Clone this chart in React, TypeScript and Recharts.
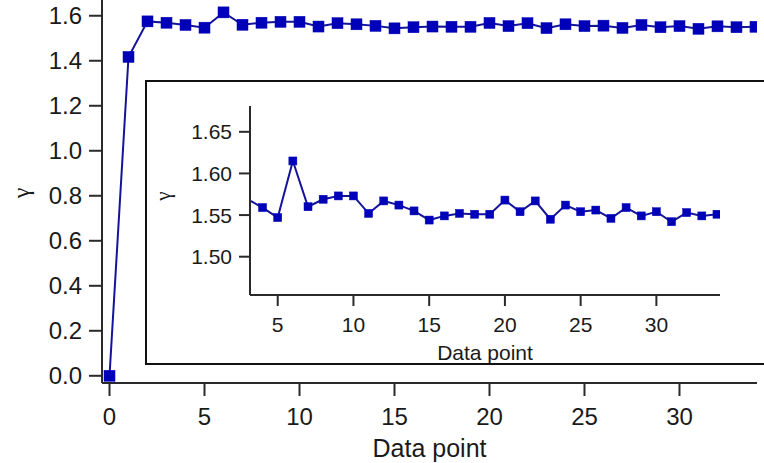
import { LineChart, Line, XAxis, YAxis } from "recharts";

const pointIndex = [
  0, 1, 2, 3, 4, 5, 6, 7, 8, 9, 10, 11, 12, 13, 14, 15, 16, 17, 18, 19, 20, 21,
  22, 23, 24, 25, 26, 27, 28, 29, 30, 31, 32, 33, 34,
];
const gammaValues = [
  0, 1.417, 1.575, 1.569, 1.559, 1.547, 1.615, 1.56, 1.569, 1.573, 1.573, 1.552,
  1.567, 1.562, 1.555, 1.544, 1.549, 1.552, 1.551, 1.551, 1.568, 1.554, 1.567,
  1.545, 1.562, 1.554, 1.556, 1.546, 1.559, 1.549, 1.554, 1.542, 1.553, 1.549,
  1.551,
];

const mainXTicks = [0, 5, 10, 15, 20, 25, 30];
const mainYTicks = [0, 0.2, 0.4, 0.6, 0.8, 1.0, 1.2, 1.4, 1.6];
const insetXTicks = [5, 10, 15, 20, 25, 30];
const insetYTicks = [1.5, 1.55, 1.6, 1.65];
const insetFrom = 3;
const insetXDomain: [number, number] = [3.17, 34.2];

const rows = pointIndex.map((x, i) => ({ x, gamma: gammaValues[i] }));
const insetRows = rows.filter((r) => r.x >= insetFrom);

const FONT = "'Liberation Sans', Arial, sans-serif";
const INK = "#1a1a1a";
const AXIS = "#2a2a2a";
const MARKER = "#0000b8";
const LINE = "#14149a";

// square markers; points left of minX are hidden (the inset clips them)
function squareDot(size: number, minX = -Infinity) {
  return (props: any) => {
    const { cx, cy, index, payload } = props;
    if (cx == null || cy == null || payload?.x < minX) return <g key={index} />;
    return (
      <rect
        key={index}
        x={cx - size / 2}
        y={cy - size / 2}
        width={size}
        height={size}
        fill={MARKER}
        stroke={MARKER}
        strokeWidth={0.5}
      />
    );
  };
}

function GammaLabel({ cx, cy, fontSize }: { cx: number; cy: number; fontSize: number }) {
  return (
    <text
      x={cx}
      y={cy}
      transform={`rotate(-90 ${cx} ${cy})`}
      textAnchor="middle"
      dominantBaseline="central"
      fontFamily="'Liberation Serif', 'DejaVu Serif', serif"
      fontSize={fontSize}
      fill={INK}
    >
      γ
    </text>
  );
}

export default function App() {
  return (
    <div
      style={{
        position: "absolute",
        left: 0,
        top: 0,
        width: 764,
        height: 463,
        overflow: "hidden",
        background: "#fff",
      }}
    >
      <LineChart
        width={764}
        height={463}
        data={rows}
        margin={{ top: 0, right: 7, bottom: 0, left: 0 }}
      >
        <XAxis
          dataKey="x"
          type="number"
          domain={[-0.395, 34.08]}
          allowDataOverflow
          ticks={mainXTicks}
          height={80}
          tickSize={13}
          tickMargin={12}
          stroke={AXIS}
          strokeWidth={2}
          tick={{ fill: INK, fontSize: 24, fontFamily: FONT }}
          label={{
            value: "Data point",
            position: "insideBottom",
            offset: 6,
            fill: INK,
            fontSize: 25,
            fontFamily: FONT,
          }}
        />
        <YAxis
          type="number"
          domain={[-0.032, 1.67]}
          allowDataOverflow
          ticks={mainYTicks}
          width={102}
          tickSize={13}
          tickMargin={7}
          stroke={AXIS}
          strokeWidth={2}
          tickFormatter={(v: number) => v.toFixed(1)}
          tick={{ fill: INK, fontSize: 24, fontFamily: FONT }}
          label={<GammaLabel cx={21} cy={193} fontSize={24} />}
        />
        <Line
          dataKey="gamma"
          stroke={LINE}
          strokeWidth={2}
          dot={squareDot(11)}
          activeDot={false}
          isAnimationActive={false}
        />
      </LineChart>

      <div
        style={{
          position: "absolute",
          left: 145,
          top: 80,
          width: 640,
          height: 281,
          borderLeft: "2px solid #111",
          borderTop: "2px solid #111",
          borderBottom: "2px solid #111",
          background: "#fff",
        }}
      >
        <LineChart
          width={617}
          height={281}
          data={insetRows}
          margin={{ top: 24, right: 44, bottom: 0, left: 0 }}
        >
          <XAxis
            dataKey="x"
            type="number"
            domain={insetXDomain}
            allowDataOverflow
            ticks={insetXTicks}
            height={68}
            tickSize={11}
            tickMargin={11}
            stroke={AXIS}
            strokeWidth={2}
            tick={{ fill: INK, fontSize: 21, fontFamily: FONT }}
            label={{
              value: "Data point",
              position: "insideBottom",
              offset: 3,
              fill: INK,
              fontSize: 21,
              fontFamily: FONT,
            }}
          />
          <YAxis
            type="number"
            domain={[1.454, 1.681]}
            allowDataOverflow
            ticks={insetYTicks}
            width={103}
            tickSize={11}
            tickMargin={7}
            stroke={AXIS}
            strokeWidth={2}
            tickFormatter={(v: number) => v.toFixed(2)}
            tick={{ fill: INK, fontSize: 21, fontFamily: FONT }}
            label={<GammaLabel cx={16} cy={114} fontSize={21} />}
          />
          <Line
            dataKey="gamma"
            stroke={LINE}
            strokeWidth={2}
            dot={squareDot(8, insetXDomain[0])}
            activeDot={false}
            isAnimationActive={false}
          />
        </LineChart>
      </div>
    </div>
  );
}
